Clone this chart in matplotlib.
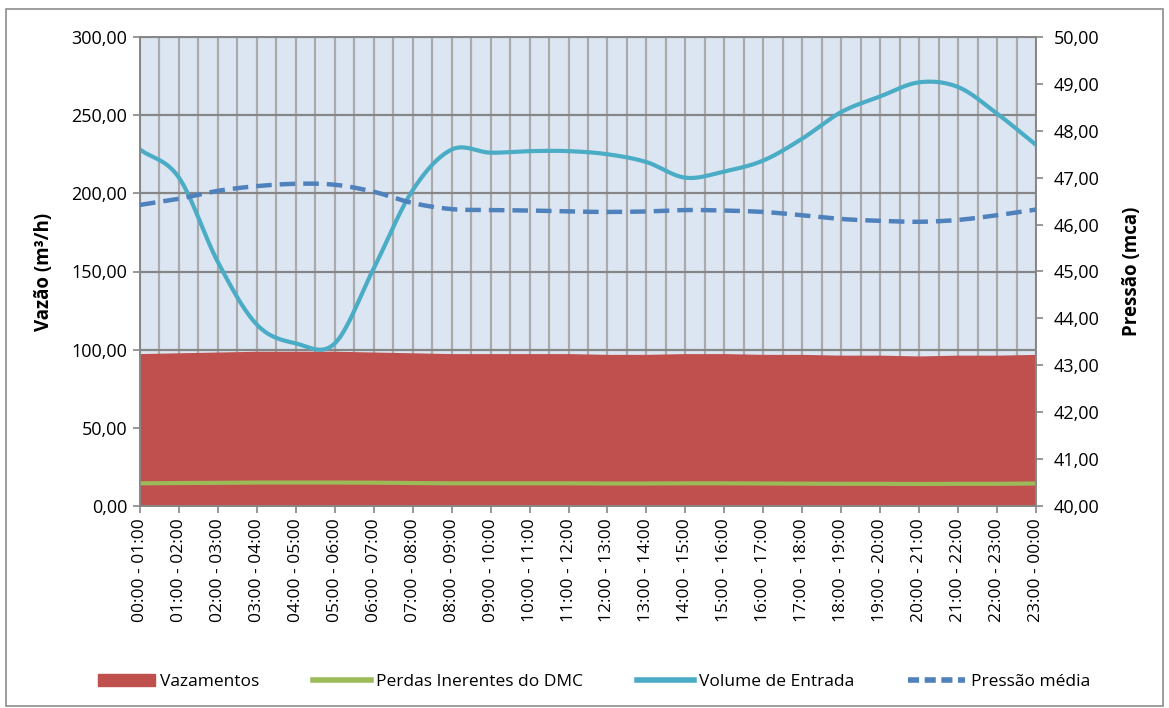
import numpy as np
import matplotlib
matplotlib.use("Agg")
import matplotlib.pyplot as plt
from matplotlib.patches import Rectangle
from matplotlib.lines import Line2D

plt.rcParams['font.family'] = ['Open Sans', 'DejaVu Sans']

horas = ["00:00 - 01:00", "01:00 - 02:00", "02:00 - 03:00", "03:00 - 04:00",
         "04:00 - 05:00", "05:00 - 06:00", "06:00 - 07:00", "07:00 - 08:00",
         "08:00 - 09:00", "09:00 - 10:00", "10:00 - 11:00", "11:00 - 12:00",
         "12:00 - 13:00", "13:00 - 14:00", "14:00 - 15:00", "15:00 - 16:00",
         "16:00 - 17:00", "17:00 - 18:00", "18:00 - 19:00", "19:00 - 20:00",
         "20:00 - 21:00", "21:00 - 22:00", "22:00 - 23:00", "23:00 - 00:00"]
vazamentos = [97.5, 98, 98.5, 99, 99, 99, 98.5, 98, 97.5, 97.5, 97.5, 97.5,
              97, 97, 97.5, 97.5, 97, 97, 96.5, 96.5, 96, 96.5, 96.5, 97]
perdas = [14.5, 14.7, 14.8, 15, 15, 15, 14.9, 14.7, 14.5, 14.5, 14.5, 14.5,
          14.4, 14.4, 14.5, 14.5, 14.4, 14.3, 14.2, 14.2, 14.1, 14.2, 14.2, 14.4]
volume = [228, 210, 156, 116, 104, 104, 152, 202, 228, 226, 227, 227,
          225, 220, 210, 214, 221, 235, 252, 262, 271, 268, 251, 231]
pressao = [46.42, 46.55, 46.72, 46.82, 46.87, 46.85, 46.70, 46.46, 46.33, 46.31,
           46.30, 46.28, 46.27, 46.28, 46.31, 46.30, 46.27, 46.2, 46.12, 46.08,
           46.06, 46.1, 46.2, 46.32]

def suave(x, y, n=20):
    # Catmull-Rom, like Excel's smoothed line
    x = np.asarray(x, float); y = np.asarray(y, float)
    px = np.concatenate([[2*x[0]-x[1]], x, [2*x[-1]-x[-2]]])
    py = np.concatenate([[2*y[0]-y[1]], y, [2*y[-1]-y[-2]]])
    xs, ys = [], []
    t = np.linspace(0, 1, n, endpoint=False)
    for i in range(1, len(px)-2):
        for p, out in ((px, xs), (py, ys)):
            p0, p1, p2, p3 = p[i-1], p[i], p[i+1], p[i+2]
            out.extend(0.5*((2*p1) + (-p0+p2)*t + (2*p0-5*p1+4*p2-p3)*t**2
                            + (-p0+3*p1-3*p2+p3)*t**3))
    xs.append(x[-1]); ys.append(y[-1])
    return np.array(xs), np.array(ys)

x = np.arange(len(horas))
fig = plt.figure(figsize=(11.69, 7.08), dpi=100)
fig.patches.append(Rectangle((0.005, 0.003), 0.99, 0.984, transform=fig.transFigure,
                             fill=False, edgecolor='#8c8c8c', linewidth=1.2))
ax = fig.add_axes([140/1169, 1-506/708, 896/1169, 469/708])
ax.set_facecolor('#dce6f2')

for xv in np.arange(0, 23.01, 0.5):
    ax.axvline(xv, color='#aaaaaa', linewidth=1.6, zorder=1)
for yv in range(50, 301, 50):
    ax.axhline(yv, color='#868686', linewidth=1.6, zorder=1)

ax.fill_between(x, 0, vazamentos, color='#c0504d', linewidth=0, zorder=2)
ax.plot(x, perdas, color='#9bbb59', linewidth=3, zorder=3)
vx, vy = suave(x, volume)
ax.plot(vx, vy, color='#4bacc6', linewidth=3, zorder=4, solid_capstyle='round')

ax.set_xlim(0, 23)
ax.set_ylim(0, 300)
ax.set_yticks(range(0, 301, 50))
ax.set_yticklabels([f"{v:.2f}".replace('.', ',') for v in range(0, 301, 50)], fontsize=13)
ax.set_xticks(x)
ax.set_xticklabels(horas, rotation=90, fontsize=12.5)
ax.tick_params(axis='both', colors='#868686', labelcolor='black', length=5, width=1.2, pad=4)
for s in ax.spines.values():
    s.set_color('#868686'); s.set_linewidth(1.2)
ax.set_ylabel("Vazão (m³/h)", fontsize=13.5, fontweight='bold', labelpad=13)

ax2 = ax.twinx()
px_, py_ = suave(x, pressao)
ax2.plot(px_, py_, color='#4f81bd', linewidth=3.2, dashes=(3.5, 1.8), zorder=5)
ax2.set_ylim(40, 50)
ax2.set_yticks(range(40, 51))
ax2.set_yticklabels([f"{v:.2f}".replace('.', ',') for v in range(40, 51)], fontsize=13)
ax2.tick_params(axis='y', colors='#868686', labelcolor='black', length=5, width=1.2, pad=8)
for s in ax2.spines.values():
    s.set_color('#868686'); s.set_linewidth(1.2)
ax2.set_ylabel("Pressão (mca)", fontsize=13.5, fontweight='bold', labelpad=16)

handles = [Rectangle((0, 0), 1, 1, color='#c0504d'),
           Line2D([], [], color='#9bbb59', linewidth=4),
           Line2D([], [], color='#4bacc6', linewidth=4),
           Line2D([], [], color='#4f81bd', linewidth=4, dashes=(2, 1))]
fig.legend(handles, ["Vazamentos", "Perdas Inerentes do DMC", "Volume de Entrada", "Pressão média"],
           loc='center', bbox_to_anchor=(0.508, 1-682/708), ncol=4, frameon=False,
           fontsize=12.5, handlelength=3.3, handletextpad=0.3, columnspacing=3.1)

fig.savefig("out.png", dpi=100)
